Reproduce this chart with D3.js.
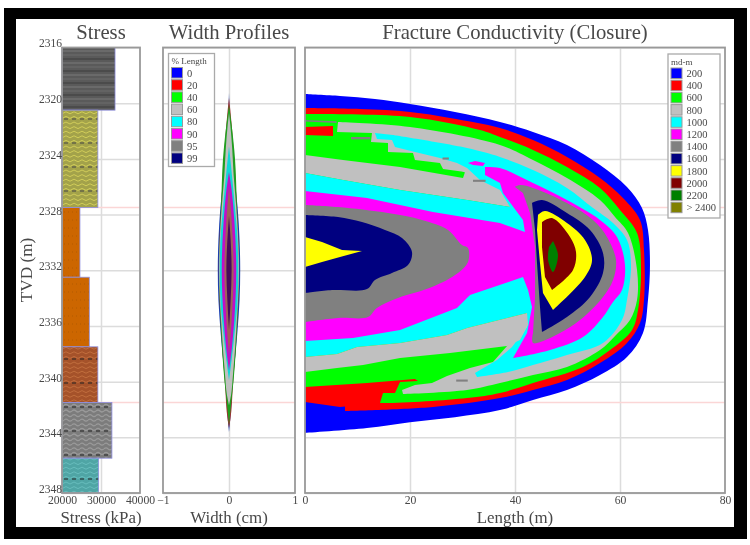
<!DOCTYPE html>
<html>
<head>
<meta charset="utf-8">
<script src="https://cdn.jsdelivr.net/npm/d3@7"></script>
<style>
body{margin:0;background:white;}
svg{display:block;filter:blur(0.7px);}
text{font-family:"Liberation Serif",serif;fill:#484848;}
</style>
</head>
<body>
<div id="chart-area"></div>
<script>
// Tick labels
var tvdTicks = [2316,2320,2324,2328,2332,2336,2340,2344,2348];
var stressTicks = [20000,30000,40000];
var widthTicks = [-1,0,1];
var lengthTicks = [0,20,40,60,80];
var zoneLines = [2327.5,2341.5];

// Stress layers
var layerTop = [2316,2320.5,2327.5,2332.5,2337.5,2341.5,2345.5];
var layerBottom = [2320.5,2327.5,2332.5,2337.5,2341.5,2345.5,2348];
var layerStress = [33600,29200,24600,27000,29200,32800,29400];

// Legends
var widthLabels = ['0','20','40','60','80','90','95','99'];
var condLabels = ['200','400','600','800','1000','1200','1400','1600','1800','2000','2200','> 2400'];

// Width profiles: [tvd, half width cm] per % length
var w0 = [[2319.27,0],[2321.57,.02],[2323.36,.05],[2325.16,.08],[2327.46,.13],[2329.83,.16],[2331.98,.17],[2334.14,.16],[2336.29,.13],[2338.45,.09],[2340.25,.05],[2342.04,.03],[2343.62,0]];
var w20 = [[2319.63,0],[2320.49,.02],[2323.36,.07],[2327.46,.12],[2331.98,.155],[2336.29,.12],[2340.25,.06],[2342.76,.02],[2343.34,0]];
var w40 = [[2320.13,0],[2321.57,.04],[2323.36,.08],[2323.94,.09],[2327.46,.12],[2331.98,.15],[2336.29,.12],[2339.89,.07],[2341.68,.03],[2343.12,0]];
var w60 = [[2320.7,0],[2321.57,.02],[2323.36,.05],[2325.16,.07],[2327.46,.11],[2331.98,.15],[2336.29,.11],[2339.53,.06],[2341,.03],[2341.7,0]];
var w80 = [[2323.1,0],[2324.94,.04],[2327.46,.09],[2329.83,.13],[2331.98,.14],[2334.14,.13],[2336.29,.09],[2338.45,.04],[2339.9,0]];
var w90 = [[2324.94,0],[2326.24,.04],[2328.39,.08],[2331.98,.11],[2335.58,.08],[2337.73,.04],[2339.2,0]];
var w95 = [[2326,0],[2328.39,.04],[2331.98,.07],[2335.58,.04],[2338,0]];
var w99 = [[2328.1,0],[2329.83,.025],[2331.98,.04],[2334.14,.025],[2336.3,0]];

// Conductivity contours: [length m, tvd m]
var c200 = [[0,2319.34],[6.67,2319.48],[13.33,2319.7],[20,2320.06],[28.57,2320.63],[37.14,2321.35],[43.43,2322.07],[49.9,2323],[56.19,2324.44],[61.33,2326.02],[64.19,2327.53],[65.33,2329.11],[65.71,2331.63],[65.33,2334.14],[64.38,2336.51],[61.33,2338.24],[56.19,2339.53],[49.9,2340.61],[43.43,2341.32],[37.14,2342.04],[28.57,2342.55],[20,2342.91],[11.81,2343.34],[0,2343.69]];
var c400 = [[0,2320.35],[10.48,2320.42],[20,2320.63],[27.62,2321.06],[37.14,2321.78],[43.43,2322.65],[49.9,2323.87],[56.19,2325.38],[60.57,2326.81],[63.81,2328.39],[64.57,2330.55],[64.57,2334.14],[63.81,2335.79],[61.33,2337.23],[56.19,2338.67],[49.9,2339.89],[43.43,2340.6],[37.14,2341.18],[24.38,2341.82],[7.62,2342.11],[7.62,2341.32],[0,2341.47]];
var c600 = [[0,2320.78],[20,2320.99],[33.33,2321.93],[37.14,2322.43],[43.43,2323.36],[49.9,2324.58],[56.19,2326.09],[60,2327.67],[63.24,2329.33],[64,2331.98],[63.43,2334.86],[62.29,2336.29],[58.1,2337.73],[52.95,2338.95],[43.43,2340.1],[37.14,2340.82],[30.86,2341.18],[14.29,2341.54],[6.67,2341.32],[0,2340.96]];
var c400Top = [[0,2321.71],[5.33,2321.64],[5.33,2322.36],[0,2322.29]];
var c400Low = [[0,2340.39],[11.81,2340.1],[20.95,2339.82],[21.52,2339.96],[18.1,2340.03],[17.14,2340.82],[14.86,2340.82],[14.29,2341.54],[6.67,2341.83],[0,2341.47]];
var c800Arch = [[6.29,2321.35],[20,2321.71],[37.14,2323],[43.43,2324.08],[49.9,2325.38],[56.19,2326.96],[59.05,2328.18],[61.53,2329.33],[63.24,2331.98],[63.24,2334.14],[61.9,2335.58],[59.05,2336.72],[56.19,2337.73],[49.9,2338.95],[43.43,2339.53],[37.14,2340.1],[30.86,2340.6],[18.67,2340.89],[18.48,2340.6],[20.95,2340.25],[24.19,2340.1],[27.05,2339.6],[31.43,2339.02],[35.81,2338.59],[38.48,2337.44],[42.29,2335.07],[40.95,2329.83],[39.05,2327.46],[33.33,2325.52],[25.71,2324.08],[12.76,2322.14],[6.1,2322.07]];
var c800Mid = [[12.76,2322.14],[12.57,2322.79],[15.81,2322.86],[15.81,2323.51],[20.57,2323.58],[20.95,2324.08],[25.71,2324.3],[26.29,2324.73],[30.48,2324.94],[30.1,2325.38],[18.1,2324.58],[7.24,2324.08],[0,2323.72],[0,2325.02],[7.24,2325.52],[18.1,2326.24],[30.86,2326.96],[39.05,2327.46],[33.33,2324.8],[16.76,2322.29]];
var c1000 = [[0,2325.02],[7.24,2325.52],[18.1,2326.24],[30.86,2326.96],[39.05,2327.46],[37.14,2326.24],[33.33,2325.52],[30.86,2324.66],[28.95,2324.3],[25.71,2323.94],[20.95,2323.51],[17.14,2323.15],[16.57,2322.65],[13.71,2322.57],[13.33,2322.14],[16.76,2322.29],[30.86,2323.22],[37.14,2323.86],[43.43,2324.8],[49.9,2326.09],[54.86,2327.53],[58.67,2328.61],[61.33,2329.83],[62.1,2331.63],[61.33,2334.14],[60.38,2335.58],[56.76,2337.23],[49.9,2338.09],[43.43,2338.81],[38.67,2339.31],[32.76,2339.67],[32.38,2339.38],[36.57,2338.45],[39.43,2337.52],[42.29,2336.08],[42.29,2335.07],[30.86,2336.15],[27.05,2336.65],[18.1,2337.23],[9.9,2337.52],[6.1,2338.02],[0,2338.24]];
var c800Low = [[0,2338.24],[6.1,2338.02],[9.9,2337.52],[18.1,2337.23],[27.05,2336.65],[30.86,2336.15],[42.29,2335.07],[42.48,2335.93],[40.95,2337.01],[38.48,2337.44],[27.62,2337.95],[18.1,2338.31],[11.05,2338.81],[6.1,2339.02],[0,2339.31]];
var c1200 = [[0,2326.31],[11.81,2326.81],[24.38,2327.82],[37.14,2328.61],[41.9,2329.25],[41.52,2328.39],[37.71,2326.45],[37.14,2325.73],[34.29,2325.16],[34.29,2324.58],[37.14,2324.66],[43.43,2325.73],[49.9,2326.96],[56.19,2328.39],[59.43,2329.61],[60.95,2331.63],[60.38,2333.42],[58.67,2334.28],[56.76,2335.36],[52.95,2336.8],[46.67,2337.73],[39.62,2338.31],[42.29,2336.51],[43.24,2334.64],[42.48,2333.42],[41.52,2332.49],[31.43,2333.78],[28.95,2334.71],[18.1,2336.29],[9.14,2336.87],[0,2337.08]];
var c1200Spot = [[31.05,2324.3],[32.38,2324.15],[34.29,2324.3],[33.9,2324.51],[32,2324.44]];
var c1400Left = [[0,2327.31],[6.29,2327.46],[15.81,2327.89],[22.29,2328.39],[27.24,2329.11],[29.9,2330.19],[31.05,2330.4],[31.05,2331.41],[29.14,2332.2],[24.19,2333.21],[17.71,2334],[13.71,2334.71],[12,2335.36],[6.29,2335.43],[0,2335.72]];
var c1600Left = [[0,2328.03],[6.29,2328.18],[10.86,2328.54],[15.24,2329.11],[18.48,2329.69],[20.38,2330.69],[19.62,2331.63],[16.57,2332.2],[13.33,2332.7],[11.81,2333.35],[5.14,2333.42],[0,2333.64]];
var c1800Left = [[0,2329.61],[3.24,2329.97],[7.05,2330.55],[10.86,2330.62],[6.67,2331.05],[3.24,2331.41],[0,2331.77]];
var c1400Right = [[40,2326.02],[40.95,2325.88],[43.43,2326.09],[49.9,2327.17],[54.86,2328.39],[57.52,2329.61],[59.24,2331.27],[58.67,2332.7],[56.76,2333.92],[52.38,2335.58],[48.57,2336.51],[43.43,2337.23],[43.43,2336.51],[43.81,2333.92],[43.81,2330.33],[42.86,2327.89],[41.52,2326.45]];
var c1600Right = [[43.24,2327.17],[45.14,2326.96],[49.9,2327.89],[54.29,2329.11],[56.76,2330.76],[56.76,2332.2],[54.29,2333.92],[49.9,2335.36],[45.14,2336.44],[44.76,2334.64],[44.19,2331.48],[43.81,2329.11]];
var c1800Right = [[44.38,2328.03],[45.71,2327.75],[49.9,2328.61],[53.33,2329.83],[54.67,2331.27],[53.33,2332.49],[47.24,2334.86],[45.33,2333.64],[44.76,2331.48],[44.19,2329.11]];
var c2000 = [[45.14,2328.54],[47.05,2328.25],[50.48,2329.61],[51.62,2330.69],[51.05,2331.98],[47.05,2333.42],[45.71,2332.49],[45.14,2330.33]];
var c2200 = [[47.24,2329.9],[48.19,2330.91],[47.24,2332.13],[46.29,2331.27],[46.48,2330.33]];
var flecks = [
  [[0,2321.2],[6,2321.3],[6,2321.42],[0,2321.32]],
  [[8.76,2322.43],[12.4,2322.43],[12.4,2322.6],[8.76,2322.6]],
  [[26.2,2323.9],[27.4,2323.9],[27.4,2324.05],[26.2,2324.05]],
  [[32,2325.5],[34.4,2325.5],[34.4,2325.65],[32,2325.65]],
  [[28.8,2339.85],[31,2339.85],[31,2340],[28.8,2340]]
];

var blue='#0000ff',red='#ff0000',lime='#00ff00',silver='#c0c0c0',cyan='#00ffff',magenta='#ff00ff',
    gray='#808080',navy='#000080',yellow='#ffff00',maroon='#800000',green='#008000',olive='#808000';
var widthColors = [blue,red,lime,silver,cyan,magenta,gray,navy];
var profileColors = ['#1a3fb0','#a03030','#1f9f1f',silver,'#10d8d8','#c010c8','#a0605a','#48085c'];
var condColors = [blue,red,lime,silver,cyan,magenta,gray,navy,yellow,maroon,green,olive];

var svgWidth = 750, svgHeight = 545;
var top_ = 47.5, bottom_ = 493;

var svg = d3.select('#chart-area').append('svg')
    .attr('width',svgWidth)
    .attr('height',svgHeight);

// black frame
svg.append('rect').attr('x',4).attr('y',8).attr('width',743).attr('height',531).attr('fill','black');
svg.append('rect').attr('x',16).attr('y',19).attr('width',718).attr('height',508).attr('fill','white');

var yScale = d3.scaleLinear().domain([2316,2348]).range([top_,bottom_]);
var xStress = d3.scaleLinear().domain([20000,40000]).range([62,140]);
var xWidth = d3.scaleLinear().domain([-1,1]).range([163,295]);
var xLength = d3.scaleLinear().domain([0,80]).range([305,725]);

// patterns for the rock layers
var defs = svg.append('defs');
function addPattern(id,h,base,rows){
    var p = defs.append('pattern').attr('id',id).attr('patternUnits','userSpaceOnUse')
        .attr('width',8).attr('height',h);
    p.append('rect').attr('width',8).attr('height',h).attr('fill',base);
    rows.forEach(function(r){
        p.append('path').attr('d',r.d).attr('fill','none').attr('stroke',r.c)
            .attr('stroke-width',r.w).attr('stroke-dasharray',r.dash||null);
    });
}
var wave = function(y){ return 'M0,'+y+' Q2,'+(y-2)+' 4,'+y+' T8,'+y; };
function waves(c,w,dark){
    return [0,1,2,3,4].map(function(i){return {d:wave(3+i*4.6),c:c,w:w};})
        .concat([{d:'M0,23H8',c:dark,w:1,dash:'4 4'}]);
}
addPattern('rock0',12,'#5a5a5a',[{d:'M0,3H8',c:'#6f6f6f',w:1.5},{d:'M0,7H8',c:'#666',w:1.5},{d:'M0,11H8',c:'#3c3c3c',w:1}]);
addPattern('rock1',24,'#a3a24a',waves('#d0cc58',1,'#444'));
addPattern('rock2',8,'#cc6600',[{d:'M0,4H8',c:'#b35a00',w:1,dash:'1 3'}]);
addPattern('rock3',24,'#a5522a',waves('#c06c3c',1,'#222'));
addPattern('rock4',24,'#7c7c7c',waves('#9a9a9a',1.2,'#222'));
addPattern('rock5',24,'#4fa5a5',waves('#66bcbc',1,'#222'));

// panel with grid, zone lines and axes
function panelGrid(x,xTicks){
    var g = svg.append('g');
    g.append('g').attr('transform','translate(0,'+bottom_+')')
     .call(d3.axisBottom(x).tickValues(xTicks).tickSize(-(bottom_-top_)).tickFormat(''))
     .call(function(a){
        a.select('.domain').remove();
        a.selectAll('line').attr('stroke','#dcdcdc').attr('stroke-width',1.5);
     });
    g.append('g').attr('transform','translate('+x.range()[0]+',0)')
     .call(d3.axisLeft(yScale).tickValues(tvdTicks).tickSize(-(x.range()[1]-x.range()[0])).tickFormat(''))
     .call(function(a){
        a.select('.domain').remove();
        a.selectAll('line').attr('stroke','#dcdcdc').attr('stroke-width',1.5);
     });
    g.selectAll('.zone').data(zoneLines).enter().append('line')
     .attr('class','zone')
     .attr('x1',x.range()[0]).attr('x2',x.range()[1])
     .attr('y1',function(d){return yScale(d);}).attr('y2',function(d){return yScale(d);})
     .attr('stroke','#fbd6d6').attr('stroke-width',1.5);
}
function panelFrame(x,xTicks,title,xLabel){
    var w = x.range()[1]-x.range()[0];
    svg.append('rect').attr('x',x.range()[0]).attr('y',top_).attr('width',w).attr('height',bottom_-top_)
       .attr('fill','none').attr('stroke','#999').attr('stroke-width',1.8);
    var ax = svg.append('g').attr('transform','translate(0,'+bottom_+')')
       .call(d3.axisBottom(x).tickValues(xTicks).tickSize(0).tickPadding(3).tickFormat(d3.format('d')));
    ax.select('.domain').remove();
    ax.selectAll('text').style('font-family','"Liberation Serif",serif').style('font-size','11.7px').style('fill','#484848');
    svg.append('text').attr('x',(x.range()[0]+x.range()[1])/2).attr('y',523)
       .attr('text-anchor','middle').style('font-size','16.9px').text(xLabel);
    svg.append('text').attr('x',(x.range()[0]+x.range()[1])/2).attr('y',39)
       .attr('text-anchor','middle').style('font-size','20.7px').text(title);
}

panelGrid(xStress,[30000]);
panelGrid(xWidth,[0]);
panelGrid(xLength,[20,40,60]);

// Stress bars
var patternOf = ['rock0','rock1','rock2','rock2','rock3','rock4','rock5'];
svg.append('g').selectAll('rect').data(layerStress).enter().append('rect')
    .attr('x',xStress(20000))
    .attr('y',function(d,i){return yScale(layerTop[i]);})
    .attr('width',function(d){return xStress(d)-xStress(20000);})
    .attr('height',function(d,i){return yScale(layerBottom[i])-yScale(layerTop[i]);})
    .attr('fill',function(d,i){return 'url(#'+patternOf[i]+')';})
    .attr('stroke','#8f8fe0').attr('stroke-width',0.8);

// Width profiles
var widthArea = d3.area()
    .y(function(d){return yScale(d[0]);})
    .x0(function(d){return xWidth(-d[1]);})
    .x1(function(d){return xWidth(d[1]);})
    .curve(d3.curveMonotoneY);
[w0,w20,w40,w60,w80,w90,w95,w99].forEach(function(w,i){
    svg.append('path').attr('d',widthArea(w)).attr('fill',profileColors[i]);
});

// Conductivity contours, painted from outer to inner
var contour = d3.line()
    .x(function(d){return xLength(d[0]);})
    .y(function(d){return yScale(d[1]);});
var smooth = d3.line()
    .x(function(d){return xLength(d[0]);})
    .y(function(d){return yScale(d[1]);})
    .curve(d3.curveCatmullRom.alpha(0.5));
// range = part of the contour that is a smooth curve, the rest stays straight
function contourPath(pts,range){
    if(!range) return contour(pts)+'Z';
    var a = contour(pts.slice(0,range[0]+1));
    var b = smooth(pts.slice(range[0],range[1]+1)).replace('M','L');
    var c = contour(pts.slice(range[1])).replace('M','L');
    return a+b+c+'Z';
}
var contours = [
    [c200,blue,[0,23]],[c400,red,[0,19]],[c600,lime,[0,19]],[c400Top,red],[c400Low,red],
    [c800Arch,silver,[0,17]],[c800Mid,silver],[c1000,cyan,[15,30]],[c800Low,silver],
    [c1200,magenta,[9,21]],[c1200Spot,magenta],
    [c1400Left,gray,[0,14]],[c1600Left,navy,[0,11]],[c1800Left,yellow],
    [c1400Right,gray,[0,12]],[c1600Right,navy,[0,8]],[c1800Right,yellow,[0,6]],[c2000,maroon,[0,5]],[c2200,green,[0,4]]
];
contours.forEach(function(c){
    svg.append('path').attr('d',contourPath(c[0],c[2])).attr('fill',c[1]);
});
flecks.forEach(function(f){
    svg.append('path').attr('d',contour(f)+'Z').attr('fill',gray);
});

panelFrame(xStress,stressTicks,'Stress','Stress (kPa)');
panelFrame(xWidth,widthTicks,'Width Profiles','Width (cm)');
panelFrame(xLength,lengthTicks,'Fracture Conductivity (Closure)','Length (m)');

// TVD axis
var yAxis = svg.append('g').attr('transform','translate(62,0)')
    .call(d3.axisLeft(yScale).tickValues(tvdTicks).tickSize(0).tickPadding(0).tickFormat(d3.format('d')));
yAxis.select('.domain').remove();
yAxis.selectAll('text').attr('dy','-0.05em').style('font-family','"Liberation Serif",serif').style('font-size','11.5px').style('fill','#484848');
svg.append('text').attr('transform','translate(32,270) rotate(-90)')
    .attr('text-anchor','middle').style('font-size','17.2px').text('TVD (m)');

// Legends
function legend(x,y,w,h,title,labels,colors){
    var g = svg.append('g').attr('transform','translate('+x+','+y+')');
    g.append('rect').attr('width',w).attr('height',h).attr('fill','white')
     .attr('stroke','#aaa').attr('stroke-width',1.3);
    g.append('text').attr('x',3).attr('y',10.5).style('font-size','9px').text(title);
    var rows = g.selectAll('.row').data(labels).enter().append('g')
        .attr('transform',function(d,i){return 'translate(3,'+(14+i*12.2)+')';});
    rows.append('rect').attr('width',11).attr('height',10.5)
        .attr('fill',function(d,i){return colors[i];})
        .attr('stroke','#999').attr('stroke-width',1);
    rows.append('text').attr('x',15.5).attr('y',9).style('font-size','10.5px').text(function(d){return d;});
}
legend(168.5,53.5,46,113,'% Length',widthLabels,widthColors);
legend(668,54,52,164,'md-m',condLabels,condColors);
</script>
</body>
</html>
